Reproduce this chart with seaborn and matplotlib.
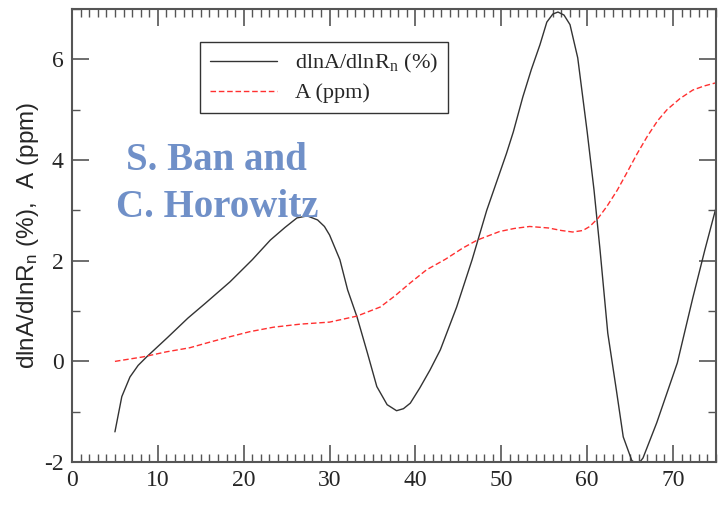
import numpy as np
import pandas as pd
import matplotlib
matplotlib.use("Agg")
import matplotlib.pyplot as plt
from matplotlib.ticker import MultipleLocator
import seaborn as sns

# dlnA/dlnRn (%) curve
x_dln = [5.0, 5.4, 5.8, 6.75, 7.7, 8.7, 11.1, 13.5, 15.5, 18.4, 21.0, 23.1, 24.8, 26.2, 27.4, 28.6,
         29.4, 30.0, 31.2, 32.1, 33.2, 34.4, 35.5, 36.7, 37.8, 38.6, 39.4, 40.5, 41.7, 42.9, 44.8,
         46.6, 48.3, 50.6, 51.4, 52.5, 53.5, 54.5, 55.3, 56.0, 56.6, 57.3, 58.0, 58.9, 60.0, 60.8,
         61.5, 62.4, 63.4, 64.2, 65.2, 65.9, 66.5, 68.1, 70.5, 72.3, 73.7, 75.0]
y_dln = [-1.40, -1.05, -0.70, -0.31, -0.08, 0.09, 0.47, 0.86, 1.15, 1.58, 2.02, 2.41, 2.66, 2.85, 2.89, 2.81,
         2.68, 2.51, 2.02, 1.42, 0.88, 0.17, -0.50, -0.86, -0.98, -0.94, -0.83, -0.53, -0.17, 0.23, 1.08,
         2.02, 3.00, 4.13, 4.56, 5.25, 5.80, 6.29, 6.74, 6.90, 6.94, 6.88, 6.69, 6.03, 4.56, 3.40,
         2.21, 0.56, -0.57, -1.50, -1.97, -2.05, -1.92, -1.22, -0.03, 1.26, 2.21, 3.05]

# A (ppm) curve
x_A = [5.0, 8.3, 11.0, 13.7, 16.0, 18.4, 20.7, 23.5, 26.6, 30.0, 33.2, 35.9, 37.6, 39.4, 41.3, 43.5, 45.5, 47.2,
       49.8, 51.5, 53.3, 55.5, 57.0, 58.3, 59.5, 60.3, 61.3, 62.3, 63.5, 64.6, 65.8, 67.0, 68.2, 69.3, 70.8, 72.3, 73.6, 74.9]
y_A = [0.00, 0.09, 0.19, 0.27, 0.38, 0.49, 0.59, 0.68, 0.74, 0.78, 0.90, 1.08, 1.30, 1.56, 1.82, 2.03, 2.25, 2.41,
       2.58, 2.64, 2.68, 2.65, 2.60, 2.57, 2.60, 2.68, 2.85, 3.08, 3.40, 3.74, 4.12, 4.47, 4.78, 5.00, 5.22, 5.39, 5.47, 5.53]

x_ticks = [0, 10, 20, 30, 40, 50, 60, 70]
y_ticks = [-2, 0, 2, 4, 6]

df_dln = pd.DataFrame({"x": x_dln, "y": y_dln})
df_A = pd.DataFrame({"x": x_A, "y": y_A})

sns.set_style("white")
plt.rcParams["mathtext.fontset"] = "stix"
plt.rcParams["axes.unicode_minus"] = False

fig = plt.figure(figsize=(7.2, 5.18), dpi=100)
ax = fig.add_axes([0.100, 0.108, 0.8944, 0.8746])

sns.lineplot(data=df_dln, x="x", y="y", ax=ax, color="#333333", linewidth=1.0,
             label=r"dlnA/dlnR$_\mathregular{n}$ (%)", sort=False)
sns.lineplot(data=df_A, x="x", y="y", ax=ax, color="#ff3030", linewidth=1.0,
             linestyle=(0, (4, 2)), label="A (ppm)", sort=False)

ax.set_xlim(0, 75)
ax.set_ylim(-2, 7)
ax.set_xticks(x_ticks)
ax.set_yticks(y_ticks)
ax.xaxis.set_minor_locator(MultipleLocator(1))
ax.yaxis.set_minor_locator(MultipleLocator(1))
ax.tick_params(which="major", direction="in", length=12, width=1.2, color="#555555",
               top=True, right=True, bottom=True, left=True, labelsize=17, pad=6)
ax.tick_params(which="minor", direction="in", length=6, width=1.0, color="#555555",
               top=True, right=True, bottom=True, left=True)
for lab in ax.get_xticklabels() + ax.get_yticklabels():
    lab.set_family("Liberation Serif")
for s in ax.spines.values():
    s.set_color("#555555")
    s.set_linewidth(1.5)

ax.set_xlabel("")
ax.set_ylabel(r"dlnA/dlnR$_\mathregular{n}$ (%),  A (ppm)", fontsize=17.5,
              family="Liberation Sans", labelpad=2)

leg = ax.legend(loc="upper left", bbox_to_anchor=(0.199, 0.927), borderaxespad=0,
                frameon=True, fancybox=False, edgecolor="black", handlelength=3.0,
                prop={"family": "Liberation Serif", "size": 16}, borderpad=0.45,
                labelspacing=0.35, handletextpad=0.8)
leg.get_frame().set_linewidth(1.0)

ax.text(16.8, 3.80, "S. Ban and", ha="center", va="baseline",
        fontsize=28, fontweight="bold", family="Liberation Serif", color="#7090c8")
ax.text(16.9, 2.87, "C. Horowitz", ha="center", va="baseline",
        fontsize=28, fontweight="bold", family="Liberation Serif", color="#7090c8")

fig.savefig("out.png", dpi=100)
